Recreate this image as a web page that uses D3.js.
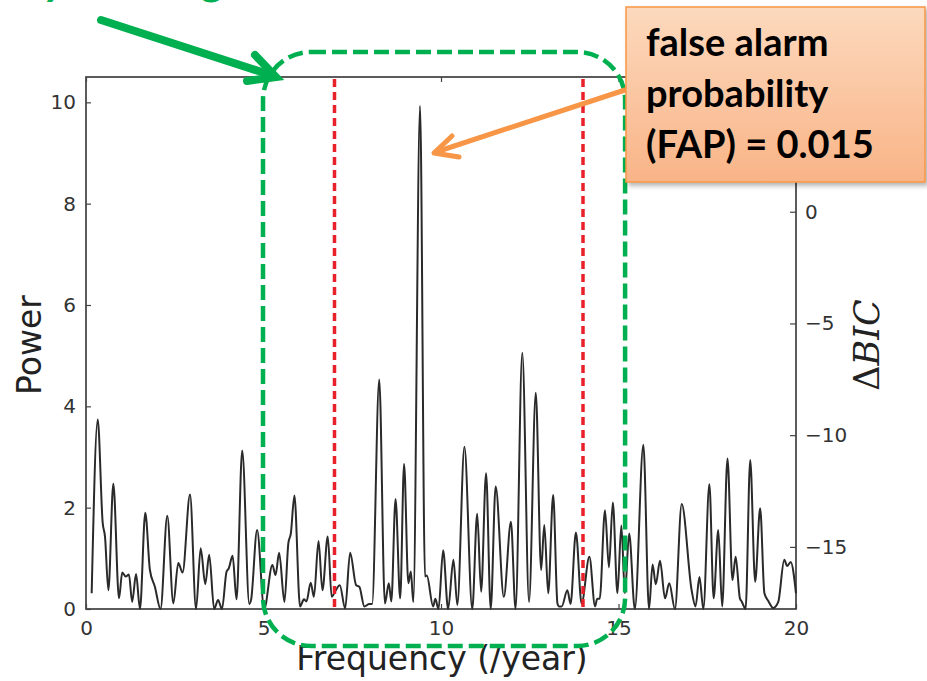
<!DOCTYPE html>
<html>
<head>
<meta charset="utf-8">
<style>
  body { margin: 0; background: #fff; }
  svg { display: block; }
  .tick text { font-family: "DejaVu Sans", sans-serif; fill: #333; }
</style>
</head>
<body>
<svg id="viz"></svg>
<script src="https://cdn.jsdelivr.net/npm/d3@7/dist/d3.min.js"></script>
<script>
var width = 927;
var height = 681;

// periodogram
var freq = [0.16, 0.33, 0.47, 0.535, 0.63, 0.77, 0.93, 1.02, 1.12, 1.21, 1.30, 1.41, 1.52, 1.67, 1.80, 1.94,
  2.10, 2.29, 2.46, 2.60, 2.72, 2.93, 3.10, 3.23, 3.36, 3.47, 3.61, 3.72, 3.83, 3.96, 4.02, 4.13, 4.24, 4.40,
  4.60, 4.65, 4.82, 5.02, 5.25, 5.34, 5.44, 5.59, 5.70, 5.77, 5.87, 6.03, 6.14, 6.21, 6.33, 6.42, 6.55, 6.66,
  6.81, 6.92, 7.02, 7.15, 7.30, 7.44, 7.61, 7.70, 7.84, 7.98, 8.06, 8.26, 8.42, 8.53, 8.60, 8.72, 8.85, 8.96,
  9.08, 9.15, 9.22, 9.41, 9.55, 9.60, 9.78, 9.84, 9.93, 10.06, 10.20, 10.35, 10.46, 10.66, 10.88, 11.02, 11.13,
  11.27, 11.40, 11.54, 11.77, 11.97, 12.10, 12.29, 12.48, 12.67, 12.82, 12.91, 13.02, 13.16, 13.28, 13.33,
  13.40, 13.56, 13.65, 13.80, 13.96, 14.18, 14.34, 14.40, 14.47, 14.62, 14.73, 14.84, 14.97, 15.08, 15.18,
  15.30, 15.46, 15.70, 15.86, 15.96, 16.05, 16.17, 16.31, 16.43, 16.59, 16.78, 17.06, 17.17, 17.28, 17.39,
  17.56, 17.68, 17.81, 17.92, 18.07, 18.21, 18.30, 18.42, 18.47, 18.58, 18.71, 18.85, 18.99, 19.11, 19.22,
  19.36, 19.50, 19.67, 19.75, 19.85, 20.0];
var power = [0.31, 3.74, 1.70, 1.43, 0.37, 2.47, 0.21, 0.72, 0.64, 0.68, 0.14, 0.69, 0.0, 1.90, 0.77, 0.44,
  0.0, 1.84, 0.11, 0.91, 0.72, 2.26, 0.0, 1.20, 0.49, 1.07, 0.0, 0.18, 0.0, 0.74, 0.80, 1.05, 0.19, 3.13,
  0.10, 0.18, 1.56, 0.0, 0.87, 0.67, 1.11, 0.14, 1.30, 1.49, 2.24, 0.05, 0.19, 0.15, 0.52, 0.24, 1.34, 0.37,
  1.43, 0.24, 0.35, 0.47, 0.01, 1.11, 0.47, 0.44, 0.05, 0.10, 0.10, 4.53, 0.11, 0.51, 0.15, 2.17, 0.21, 2.86,
  0.51, 0.74, 0.14, 9.93, 0.64, 0.66, 0.05, 0.20, 0.0, 1.16, 0.0, 0.97, 0.08, 3.20, 0.0, 1.88, 0.34,
  2.68, 0.0, 2.42, 0.24, 1.72, 0.0, 5.06, 0.14, 4.27, 0.77, 1.66, 0.31, 2.25, 0.11, 0.05,
  0.05, 0.37, 0.10, 1.51, 0.11, 1.03, 0.05, 0.20, 0.20, 1.95, 0.82, 2.10, 0.31, 1.65, 0.31,
  1.49, 0.0, 3.24, 0.0, 0.88, 0.49, 0.95, 0.21, 0.51, 0.0, 2.07, 0.37, 0.05, 0.63, 0.0,
  2.46, 0.21, 1.56, 0.05, 2.97, 0.57, 1.03, 0.21, 0.15, 0.0, 2.94, 0.54, 1.99, 0.31, 0.16,
  0.02, 0.14, 0.97, 0.85, 0.93, 0.31];

var xTicks = [0, 5, 10, 15, 20];
var yTicks = [0, 2, 4, 6, 8, 10];
var bicTicks = [0, -5, -10, -15];
var limits = [7, 14];           // red dashed lines
var windowRange = [5, 15.2];    // green dashed box (frequency)

var x = d3.scaleLinear().domain([0, 20]).range([86, 796]);
var y = d3.scaleLinear().domain([0, 10.5]).range([609, 77]);
var yBic = d3.scaleLinear().domain([-17.78, 6.03]).range([609, 77]);

var svg = d3.select("#viz").attr("width", width).attr("height", height);

var defs = svg.append("defs");
var grad = defs.append("linearGradient").attr("id", "boxFill")
    .attr("x1", 0).attr("y1", 0).attr("x2", 0).attr("y2", 1);
grad.append("stop").attr("offset", "0%").attr("stop-color", "#fcd9bd");
grad.append("stop").attr("offset", "100%").attr("stop-color", "#f9b487");
var shadow = defs.append("filter").attr("id", "shadow").attr("x", "-10%").attr("y", "-10%")
    .attr("width", "130%").attr("height", "130%");
shadow.append("feDropShadow").attr("dx", 3).attr("dy", 3).attr("stdDeviation", 2.5)
    .attr("flood-color", "#000").attr("flood-opacity", 0.3);

// frame
svg.append("rect")
    .attr("x", x(0)).attr("y", y(10.5))
    .attr("width", x(20) - x(0)).attr("height", y(0) - y(10.5))
    .attr("fill", "none").attr("stroke", "#333").attr("stroke-width", 1.6);

// axes, ticks inward like matplotlib
var fs = 20;
var axBottom = svg.append("g").attr("transform", "translate(0," + y(0) + ")")
    .call(d3.axisBottom(x).tickValues(xTicks).tickSize(-5).tickPadding(12).tickFormat(d3.format("d")));
var axTop = svg.append("g").attr("transform", "translate(0," + y(10.5) + ")")
    .call(d3.axisTop(x).tickValues(xTicks).tickSize(-5).tickFormat(""));
var axLeft = svg.append("g").attr("transform", "translate(" + x(0) + ",0)")
    .call(d3.axisLeft(y).tickValues(yTicks).tickSize(-5).tickPadding(10).tickFormat(d3.format("d")));
var axRight = svg.append("g").attr("transform", "translate(" + x(20) + ",0)")
    .call(d3.axisRight(yBic).tickValues(bicTicks).tickSize(-6).tickPadding(9).tickFormat(d3.format("d")));

[axBottom, axTop, axLeft, axRight].forEach(function(g) {
  g.select(".domain").remove();
  g.selectAll(".tick line").attr("stroke", "#444").attr("stroke-width", 1.2);
  g.selectAll(".tick text").style("font-size", fs + "px");
});

svg.append("text")
    .attr("transform", "translate(41," + 345 + ") rotate(-90)")
    .attr("text-anchor", "middle")
    .style("font-family", "DejaVu Sans, sans-serif")
    .style("font-size", "33px").style("fill", "#222")
    .text("Power");

svg.append("text")
    .attr("x", 442).attr("y", 670)
    .attr("text-anchor", "middle")
    .style("font-family", "DejaVu Sans, sans-serif")
    .style("font-size", "33px").style("fill", "#222")
    .text("Frequency (/year)");

var bic = svg.append("text")
    .attr("transform", "translate(879," + 345 + ") rotate(-90)")
    .attr("text-anchor", "middle")
    .style("font-family", "DejaVu Serif, serif")
    .style("font-size", "35px").style("fill", "#222");
bic.append("tspan").text("Δ");
bic.append("tspan").style("font-style", "italic").text("BIC");

// the periodogram
var line = d3.line()
    .x(function(d) { return x(d[0]); })
    .y(function(d) { return y(d[1]); })
    .curve(d3.curveMonotoneX);

svg.append("path")
    .datum(d3.zip(freq, power))
    .attr("d", line)
    .attr("fill", "none")
    .attr("stroke", "#2a2a2a")
    .attr("stroke-width", 2)
    .attr("stroke-linejoin", "round");

// red dashed limits
svg.append("g").selectAll("line")
    .data(limits)
    .enter()
    .append("line")
    .attr("x1", function(d) { return x(d); })
    .attr("x2", function(d) { return x(d); })
    .attr("y1", y(10.5) + 2).attr("y2", y(0))
    .attr("stroke", "#e8202a")
    .attr("stroke-width", 3.5)
    .attr("stroke-dasharray", "8,5");

// green dashed window
svg.append("rect")
    .attr("x", x(windowRange[0]) - 0.5).attr("y", 52)
    .attr("width", x(windowRange[1]) - x(windowRange[0])).attr("height", 594)
    .attr("rx", 48).attr("ry", 48)
    .attr("fill", "none")
    .attr("stroke", "#00b050")
    .attr("stroke-width", 4.5)
    .attr("stroke-dasharray", "15,6");

// green arrow + title cut off by the slide edge
svg.append("text")
    .attr("x", 25).attr("y", -6)
    .style("font-family", "Lato, sans-serif")
    .style("font-weight", "bold").style("font-style", "italic")
    .style("font-size", "46px").style("fill", "#00b050")
    .text("/year range");

var green = svg.append("g").attr("stroke", "#00b050").attr("stroke-width", 8)
    .attr("stroke-linecap", "round").attr("fill", "none");
green.append("line").attr("x1", 101).attr("y1", 20).attr("x2", 274).attr("y2", 76);
green.append("path").attr("d", "M255,55 L276,77 L247,81");

// orange arrow
var orange = svg.append("g").attr("stroke", "#f79646").attr("stroke-width", 5)
    .attr("stroke-linecap", "round").attr("stroke-linejoin", "round").attr("fill", "none");
orange.append("line").attr("x1", 628).attr("y1", 89).attr("x2", 436).attr("y2", 152);
orange.append("path").attr("d", "M452,136 L434,153 L459,157");

// FAP callout
svg.append("rect")
    .attr("x", 626).attr("y", 7).attr("width", 299).attr("height", 175)
    .attr("fill", "url(#boxFill)")
    .attr("stroke", "#f79646").attr("stroke-width", 1.5)
    .attr("filter", "url(#shadow)");

var callout = ["false alarm", "probability", "(FAP) = 0.015"];
svg.append("g").selectAll("text")
    .data(callout)
    .enter()
    .append("text")
    .attr("x", 646)
    .attr("y", function(d, i) { return 56 + i * 51; })
    .style("font-family", "Lato, sans-serif")
    .style("font-weight", "bold")
    .style("font-size", "38px")
    .style("fill", "#000")
    .text(function(d) { return d; });
</script>
</body>
</html>
